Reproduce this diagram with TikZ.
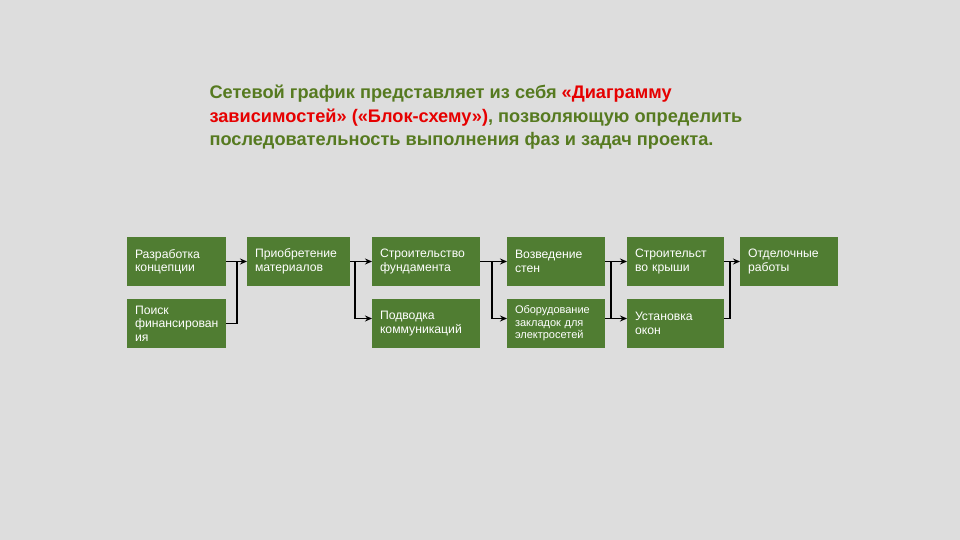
\documentclass[tikz,border=0pt]{standalone}
\usepackage{fontspec}
\setmainfont{Liberation Sans}
\usetikzlibrary{positioning,arrows.meta,calc}

\definecolor{bgray}{RGB}{221,221,221}
\definecolor{boxgreen}{RGB}{80,125,50}
\definecolor{titlegreen}{RGB}{86,122,32}
\definecolor{titlered}{RGB}{230,0,0}

\begin{document}
\begin{tikzpicture}[x=1pt, y=1pt, >={Stealth[length=7pt,width=6pt]},
  line width=1.1pt,
  box/.style={fill=boxgreen, text=white, text width=#1, align=left,
    inner xsep=8pt, inner ysep=2pt, outer sep=0pt, minimum height=49pt,
    font=\fontsize{12.2}{13.5}\selectfont}]
  \path[use as bounding box, fill=bgray] (0,0) rectangle (960,540);

  \node[anchor=north west, align=left, inner sep=0, text=titlegreen,
    font=\bfseries\fontsize{18.2}{23.5}\selectfont] (title) at (209,455.5)
    {Сетевой график представляет из себя {\color{titlered}«Диаграмму}\\
     {\color{titlered}зависимостей» («Блок-схему»)}, позволяющую определить\\
     последовательность выполнения фаз и задач проекта.};

  \node[box=83pt, anchor=west] (razr) at (127,278.5) {Разработка\\концепции};
  \node[box=83pt, below=13pt of razr] (poisk) {Поиск\\финансирован\\ия};
  \node[box=87pt, right=21pt of razr] (prio) {Приобретение\\материалов};
  \node[box=92pt, right=22pt of prio] (stroi) {Строительство\\фундамента};
  \node[box=92pt, below=13pt of stroi] (podv) {Подводка\\коммуникаций};
  \node[box=82pt, right=27pt of stroi] (vozv) {Возведение\\стен};
  \node[box=82pt, below=13pt of vozv, font=\fontsize{11}{12.5}\selectfont] (obor)
    {Оборудование\\закладок для\\электросетей};
  \node[box=81pt, right=22pt of vozv] (krysha) {Строительст\\во крыши};
  \node[box=81pt, below=13pt of krysha] (okna) {Установка\\окон};
  \node[box=82pt, right=16pt of krysha] (otdel) {Отделочные\\работы};

  \coordinate (j1) at ($(razr.east)+(11,0)$);
  \coordinate (j2) at ($(prio.east)+(5,0)$);
  \coordinate (j3) at ($(stroi.east)+(12,0)$);
  \coordinate (j4) at ($(vozv.east)+(6,0)$);
  \coordinate (j5) at ($(krysha.east)+(6,0)$);

  \draw[->] (razr.east) -- (prio.west);
  \draw (poisk.east) -| (j1);
  \draw[->] (prio.east) -- (stroi.west);
  \draw[->] (j2) |- ([yshift=5pt]podv.west);
  \draw[->] (stroi.east) -- (vozv.west);
  \draw[->] (j3) |- ([yshift=5pt]obor.west);
  \draw[->] (vozv.east) -- (krysha.west);
  \draw ([yshift=5pt]obor.east) -| (j4);
  \draw[->] (j4) |- ([yshift=5pt]okna.west);
  \draw[->] (krysha.east) -- (otdel.west);
  \draw ([yshift=5pt]okna.east) -| (j5);
\end{tikzpicture}
\end{document}
